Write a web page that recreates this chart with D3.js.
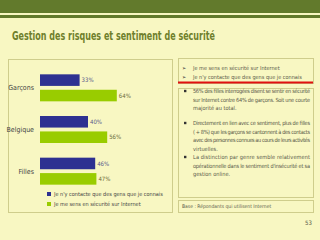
<!DOCTYPE html>
<html>
<head>
<meta charset="utf-8">
<script src="https://cdn.jsdelivr.net/npm/d3@7"></script>
<style>
  body { margin: 0; background: #f8f7c2; }
  svg { display: block; }
</style>
</head>
<body>
<main></main>
<script>
// values
const categories = ["Garçons", "Belgique", "Filles"]
const series = ["Je n'y contacte que des gens que je connais", "Je me sens en sécurité sur Internet"]
const contactOnly = [33, 40, 46]
const feelSafe = [64, 56, 47]
const seriesValues = [contactOnly, feelSafe]
const seriesColors = ["#2e3191", "#99cc00"]

const topBullets = ["Je me sens en sécurité sur Internet", "Je n'y contacte que des gens que je connais"]
const bodyBullets = [
    ["56% des filles interrogées disent se sentir en sécurité",
     "sur Internet contre 64% de garçons. Soit une courte",
     "majorité au total."],
    ["Directement en lien avec ce sentiment, plus de filles",
     "( + 8%) que les garçons se cantonnent à des contacts",
     "avec des personnes connues au cours de leurs activités",
     "virtuelles."],
    ["La distinction par genre semble relativement",
     "opérationnelle dans le sentiment d'insécurité et sa",
     "gestion online."]
]
const bulletTops = [91, 123, 157]
const baseNote = "Base : Répondants qui utilisent Internet"
const pageNr = "53"

const svgWidth = 320
const svgHeight = 240
const font = "'Liberation Sans Narrow', 'DejaVu Sans Condensed', sans-serif"
const borderColor = "#cfcd8c"
const textColor = "#5a5a4a"

let svg = d3.select("main")
    .append("svg")
    .attr("width", svgWidth)
    .attr("height", svgHeight)
    .style("background-color", "#f8f7c2")
    .style("font-family", font)

// header bands
svg.append("rect").attr("x", 0).attr("y", 0).attr("width", svgWidth).attr("height", 13).attr("fill", "#627a2c")
svg.append("rect").attr("x", 0).attr("y", 15).attr("width", svgWidth).attr("height", 3).attr("fill", "#627a2c")

svg.append("text")
    .attr("x", 12)
    .attr("y", 40)
    .attr("fill", "#6f7f2c")
    .attr("font-size", 13)
    .attr("font-weight", "bold")
    .attr("textLength", 203)
    .attr("lengthAdjust", "spacingAndGlyphs")
    .text("Gestion des risques et sentiment de sécurité")

// chart panel
svg.append("rect")
    .attr("x", 8.5).attr("y", 59.5).attr("width", 164).attr("height", 153)
    .attr("fill", "none").attr("stroke", borderColor)

let xScale = d3.scaleLinear()
    .domain([0, 100])
    .range([40, 160])

let yScale = d3.scaleBand()
    .domain(categories)
    .range([67, 192])

let innerScale = d3.scaleBand()
    .domain(series)
    .range([0, 27])
    .paddingInner(0.25)

let graph = svg.append("g")

categories.forEach((cat, ci) => {
    let top = yScale(cat) + yScale.bandwidth() / 2 - 13.5
    graph.append("text")
        .attr("x", 34)
        .attr("y", top + 13.5)
        .attr("dy", "0.35em")
        .attr("text-anchor", "end")
        .attr("font-size", 7)
        .attr("fill", "#444")
        .text(cat)

    series.forEach((s, si) => {
        let v = seriesValues[si][ci]
        graph.append("rect")
            .attr("x", xScale(0))
            .attr("y", top + innerScale(s))
            .attr("width", xScale(v) - xScale(0))
            .attr("height", innerScale.bandwidth())
            .attr("fill", seriesColors[si])
        graph.append("text")
            .attr("x", xScale(v) + 2)
            .attr("y", top + innerScale(s) + innerScale.bandwidth() / 2)
            .attr("dy", "0.35em")
            .attr("font-size", 6)
            .attr("fill", si == 0 ? "#5a5a8a" : "#6a6a3a")
            .text(v + "%")
    })
})

// legend
let legend = svg.append("g")
series.forEach((s, i) => {
    legend.append("rect")
        .attr("x", 47).attr("y", 192 + i * 10).attr("width", 4).attr("height", 4)
        .attr("fill", seriesColors[i])
    legend.append("text")
        .attr("x", 54).attr("y", 194 + i * 10)
        .attr("dy", "0.35em")
        .attr("font-size", 5.5)
        .attr("fill", "#444")
        .text(s)
})

// right panel: top box
svg.append("rect")
    .attr("x", 178.5).attr("y", 58.5).attr("width", 135).attr("height", 25)
    .attr("fill", "none").attr("stroke", borderColor)

topBullets.forEach((t, i) => {
    svg.append("text")
        .attr("x", 182).attr("y", 68 + i * 9.5).attr("dy", "0.35em")
        .attr("font-size", 5.5).attr("fill", "#333")
        .text("➢")
    svg.append("text")
        .attr("x", 193).attr("y", 68 + i * 9.5).attr("dy", "0.35em")
        .attr("font-size", 5.5).attr("fill", textColor)
        .text(t)
})

svg.append("rect")
    .attr("x", 178).attr("y", 81.5).attr("width", 135).attr("height", 2)
    .attr("fill", "#e01010")

// right panel: body box
svg.append("rect")
    .attr("x", 178.5).attr("y", 88.5).attr("width", 135).attr("height", 109)
    .attr("fill", "none").attr("stroke", borderColor)

bodyBullets.forEach((lines, bi) => {
    let lineY = bulletTops[bi]
    svg.append("rect")
        .attr("x", 184).attr("y", lineY - 1.2).attr("width", 2.4).attr("height", 2.4)
        .attr("fill", "#333")
    lines.forEach((l, li) => {
        let t = svg.append("text")
            .attr("x", 193).attr("y", lineY + li * 8.6).attr("dy", "0.35em")
            .attr("font-size", 5.6).attr("fill", textColor)
            .text(l)
        if (li < lines.length - 1) {
            t.attr("textLength", 117).attr("lengthAdjust", "spacing")
        }
    })
})

// base box
svg.append("rect")
    .attr("x", 178.5).attr("y", 200.5).attr("width", 135).attr("height", 12)
    .attr("fill", "none").attr("stroke", borderColor)

svg.append("text")
    .attr("x", 182).attr("y", 206.5).attr("dy", "0.35em")
    .attr("font-size", 5).attr("fill", textColor)
    .text(baseNote)

svg.append("text")
    .attr("x", 305).attr("y", 223).attr("dy", "0.35em")
    .attr("font-size", 6).attr("fill", textColor)
    .text(pageNr)
</script>
</body>
</html>
